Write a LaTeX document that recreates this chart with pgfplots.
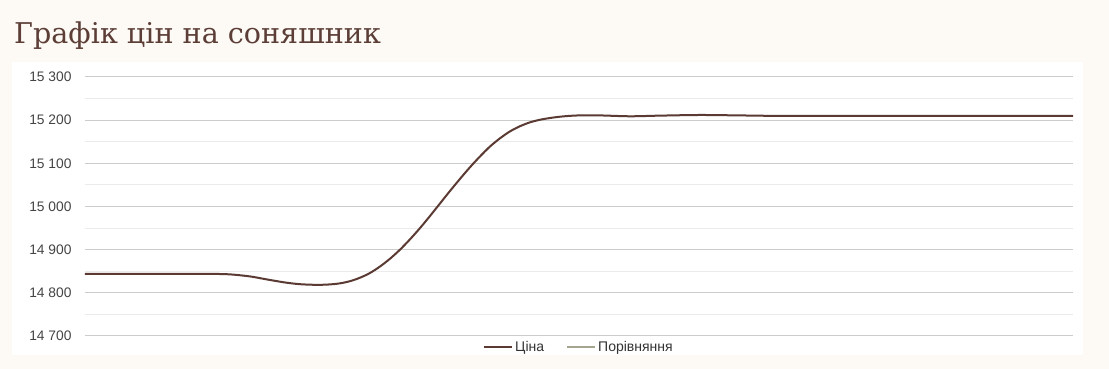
\documentclass[border=0pt]{standalone}
\usepackage{pgfplots}
\pgfplotsset{compat=1.18}
\usepackage{fontspec}
\setmainfont{Liberation Sans}
\newfontfamily\titlefont{DejaVu Serif}
\definecolor{bgpage}{HTML}{FDFAF6}
\definecolor{pricecol}{HTML}{5B3A33}
\definecolor{cmpcol}{HTML}{A6A58F}
\definecolor{titlecol}{HTML}{5C3E37}
\definecolor{ticklab}{HTML}{444444}
\definecolor{legtext}{HTML}{333333}
\begin{document}
\begin{tikzpicture}
\useasboundingbox (-85pt,-33pt) rectangle (1024pt,336pt);
\fill[bgpage] (-85pt,-33pt) rectangle (1024pt,336pt);
\fill[white] (-73pt,-19pt) rectangle (998pt,274pt);
\node[anchor=base west, text=titlecol, inner sep=0pt, font=\titlefont\fontsize{28.6}{32}\selectfont] at (-71pt,292pt) {Графік цін на соняшник};
\begin{axis}[
  at={(0pt,0pt)}, anchor=origin,
  scale only axis, width=988pt, height=259pt,
  xmin=85, xmax=1073, ymin=14700, ymax=15300,
  axis line style={draw=none},
  xtick=\empty,
  ytick={14700,14800,...,15300},
  minor y tick num=1,
  ymajorgrids, yminorgrids,
  major grid style={draw=black!20, line width=1pt},
  minor grid style={draw=black!8, line width=1pt},
  tick style={draw=none},
  scaled y ticks=false,
  yticklabel style={font=\fontsize{13.8}{16}\selectfont, text=ticklab, xshift=-10pt,
    /pgf/number format/.cd, fixed, precision=0, 1000 sep={\ }, assume math mode=true},
  legend style={at={(0.5,-0.005)}, anchor=north, draw=none, fill=none,
    font=\fontsize{14}{16}\selectfont, text=legtext, legend columns=2,
    /tikz/every even column/.append style={column sep=20pt}},
  legend image code/.code={\draw[#1, line width=2pt] (0pt,0pt) -- (28pt,0pt);},
  clip=false,
]
\addplot[pricecol, line width=2pt, smooth, tension=0.5] coordinates {
(85,14844) (150,14844) (200,14844) (228,14843) (250,14838) (267,14831)
(285,14824) (300,14820) (317,14818.5) (330,14819.5) (340,14822) (350,14827)
(360,14835) (370,14846) (380,14861) (390,14879) (400,14900) (410,14924)
(420,14950) (430,14978) (440,15007) (450,15036) (460,15064) (470,15091)
(480,15116) (490,15139) (500,15158) (510,15174) (520,15186) (530,15195)
(540,15201) (550,15205) (560,15208) (570,15210) (580,15211) (600,15211)
(630,15209) (660,15210.5) (700,15212) (740,15211) (780,15210) (900,15210)
(1073,15210)
};
\addlegendentry{Ціна}
\addlegendimage{cmpcol}
\addlegendentry{Порівняння}
\end{axis}
\end{tikzpicture}
\end{document}
